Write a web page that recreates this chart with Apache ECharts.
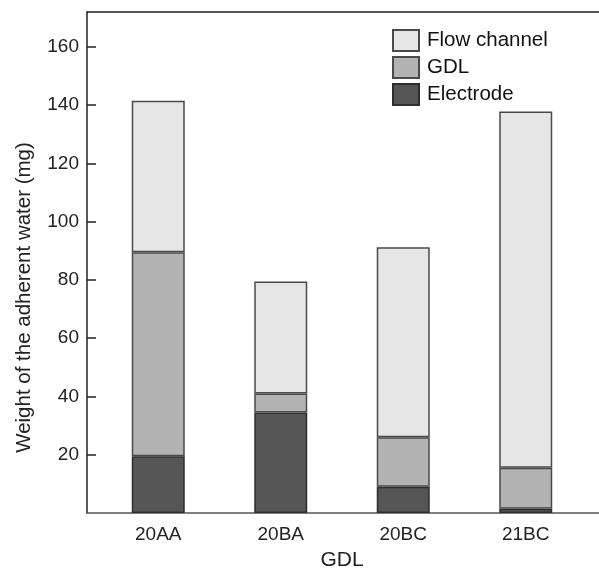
<!DOCTYPE html>
<html>
<head>
<meta charset="utf-8">
<script src="https://cdn.jsdelivr.net/npm/echarts@6/dist/echarts.min.js"></script>
<style>
  html, body { margin: 0; padding: 0; background: #fff; }
  #chart { width: 599px; height: 569px; }
</style>
</head>
<body>
<div id="chart"></div>
<script>
// data (mg), stacked bottom -> top
const categories = ['20AA', '20BA', '20BC', '21BC'];
const electrode = [19.5, 34.5, 9, 1.5];
const gdl = [70, 6.5, 17, 14];
const flowChannel = [52, 38.5, 65.2, 122.3];

const yTicks = { min: 0, max: 172, interval: 20 };

const font = 'Liberation Sans, Arial, sans-serif';
const edge = '#4a4a4a';

const chart = echarts.init(document.getElementById('chart'));

chart.setOption({
  animation: false,
  textStyle: { fontFamily: font },
  legend: {
    orient: 'vertical',
    left: 387,
    top: 24,
    icon: 'rect',
    itemWidth: 26,
    itemHeight: 21,
    itemGap: 4,
    data: ['Flow channel', 'GDL', 'Electrode'],
    textStyle: { fontSize: 20.5, color: '#111', lineHeight: 21, padding: [0, 0, 0, 3] }
  },
  grid: [
    // frame: axis lines + y ticks
    { left: 87, right: 0, top: 12, bottom: 56, outerBoundsMode: 'none' },
    // bars
    { left: 97, right: 12, top: 12, bottom: 56, outerBoundsMode: 'none' }
  ],
  xAxis: [
    {
      type: 'value', gridIndex: 0, min: 0, max: 1, position: 'bottom',
      axisLine: { show: true, lineStyle: { color: '#555', width: 1.5 } },
      axisTick: { show: false }, axisLabel: { show: false }, splitLine: { show: false }
    },
    {
      type: 'category', gridIndex: 1, data: categories,
      axisLine: { show: false }, axisTick: { show: false },
      axisLabel: { fontSize: 19, color: '#222', margin: 12 },
      name: 'GDL', nameLocation: 'middle', nameGap: 37,
      nameTextStyle: { fontSize: 21, color: '#222' }
    },
    {
      type: 'value', gridIndex: 0, min: 0, max: 1, position: 'top',
      axisLine: { show: true, lineStyle: { color: '#222', width: 1.5 } },
      axisTick: { show: false }, axisLabel: { show: false }, splitLine: { show: false }
    }
  ],
  yAxis: [
    {
      type: 'value', gridIndex: 0, min: yTicks.min, max: yTicks.max, interval: yTicks.interval,
      axisLine: { show: true, lineStyle: { color: '#222', width: 1.5 } },
      axisTick: { show: true, inside: true, length: 9, lineStyle: { color: '#222', width: 1.5 } },
      axisLabel: { fontSize: 19, color: '#222', margin: 8, showMinLabel: false, showMaxLabel: false },
      splitLine: { show: false },
      name: 'Weight of the adherent water (mg)', nameLocation: 'middle', nameGap: 52,
      nameTextStyle: { fontSize: 20.5, color: '#222', padding: [0, 70, 0, 0] }
    },
    {
      type: 'value', gridIndex: 1, min: yTicks.min, max: yTicks.max, show: false
    }
  ],
  series: [
    {
      name: 'Electrode', type: 'bar', stack: 'total', xAxisIndex: 1, yAxisIndex: 1,
      barWidth: 53, data: electrode,
      itemStyle: { color: '#565656', borderColor: '#2e2e2e', borderWidth: 1.5 }
    },
    {
      name: 'GDL', type: 'bar', stack: 'total', xAxisIndex: 1, yAxisIndex: 1,
      barWidth: 53, data: gdl,
      itemStyle: { color: '#b3b3b3', borderColor: edge, borderWidth: 1.5 }
    },
    {
      name: 'Flow channel', type: 'bar', stack: 'total', xAxisIndex: 1, yAxisIndex: 1,
      barWidth: 53, data: flowChannel,
      itemStyle: { color: '#e6e6e6', borderColor: edge, borderWidth: 1.5 }
    }
  ]
});
</script>
</body>
</html>
